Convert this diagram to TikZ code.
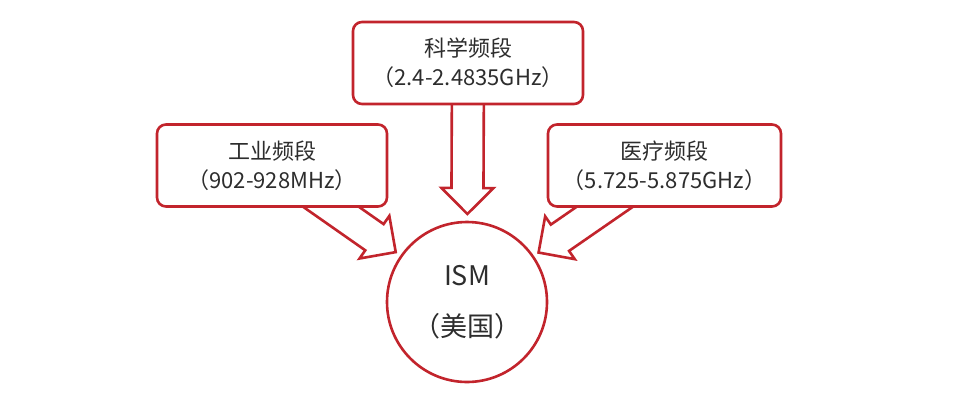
\documentclass[tikz,border=0pt]{standalone}
\usepackage{fontspec}
\setmainfont{Noto Sans CJK SC}[RawFeature=+halt]
\usetikzlibrary{calc,backgrounds}
\definecolor{ismred}{RGB}{194,36,44}
\definecolor{ismtext}{RGB}{45,45,45}
\newcommand\blkarrow[2]{%
  \draw[blockarrow] let \p1=($(#2)-(#1)$), \n1={atan2(\y1,\x1)}, \n2={veclen(\x1,\y1)} in
    [shift={(#1)}, rotate=\n1]
    (0,-16) -- (\n2-26,-16) -- (\n2-26,-26) -- (\n2,0) -- (\n2-26,26) -- (\n2-26,16) -- (0,16) -- cycle;}
\begin{document}
\begin{tikzpicture}[x=1pt,y=-1pt,
  bandbox/.style={draw=ismred, line width=2.6pt, rounded corners=9pt, fill=white,
    minimum width=230pt, minimum height=82pt, align=center, text=ismtext,
    font=\fontsize{22}{29}\selectfont, inner sep=0pt},
  ismcircle/.style={draw=ismred, line width=2.6pt, circle, fill=white,
    minimum size=160pt, align=center, text=ismtext,
    font=\fontsize{27}{51}\selectfont, inner sep=0pt},
  blockarrow/.style={draw=ismred, line width=2.6pt, fill=white, line join=miter}]
\useasboundingbox (0,0) rectangle (966,416);
\node[bandbox] (sci) at (468,63) {科学频段\\（2.4-2.4835GHz）};
\node[bandbox] (ind) at (272,165.5) {工业频段\\（902-928MHz）};
\node[bandbox, minimum width=233pt] (med) at (664.5,165.5) {医疗频段\\（5.725-5.875GHz）};
\node[ismcircle] (ism) at (467,302) {ISM\\（美国）};
\coordinate (scitip) at ($(ism.center)!88pt!(sci.center)$);
\coordinate (indtip) at ($(ism.center)!87pt!(ind.center)$);
\coordinate (medtip) at ($(ism.center)!87pt!(med.center)$);
\begin{pgfonlayer}{background}
\blkarrow{sci.center}{scitip}
\blkarrow{ind.center}{indtip}
\blkarrow{med.center}{medtip}
\end{pgfonlayer}
\end{tikzpicture}
\end{document}
